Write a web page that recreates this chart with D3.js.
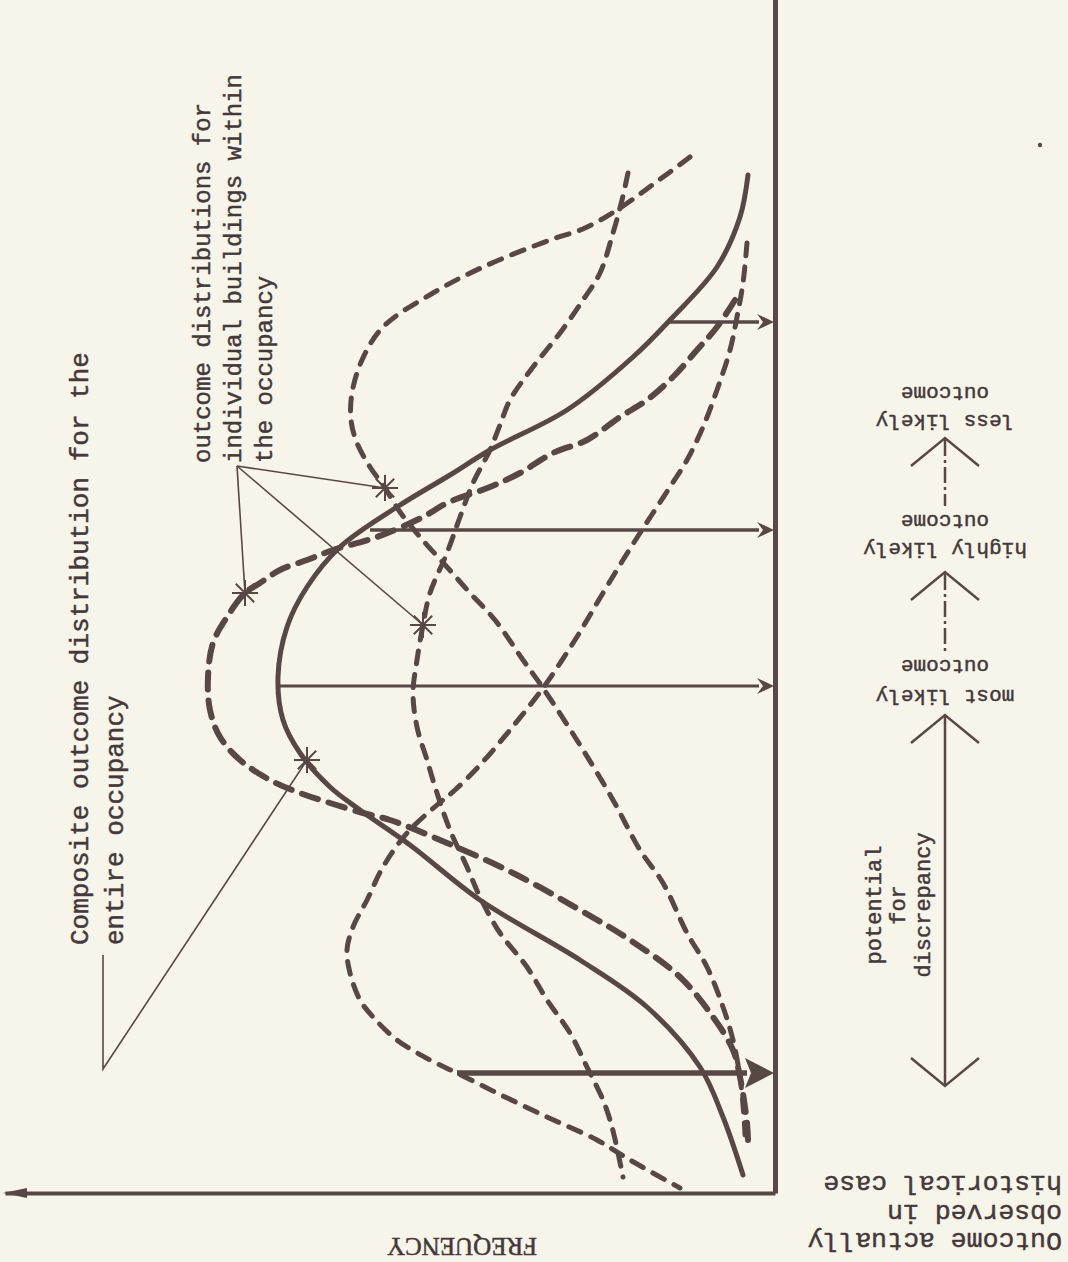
<!DOCTYPE html>
<html><head><meta charset="utf-8">
<script src="https://cdn.jsdelivr.net/npm/d3@7"></script>
<style>
html,body{margin:0;padding:0;background:#f7f4e9;}
svg{display:block;}
</style></head><body>
<svg id="chart" width="1068" height="1262"></svg>
<script>
// ---- Data (frequency units, outcome units) ----
// Composite outcome distribution for the entire occupancy (solid)
const compositeOutcome = [101.8,97.6,92.6,87.3,83.6,78.3,74.3,71.8,68.6,64.6,60.6,56.6,51.6,47.3,44.0,40.6,38.3,34.8,29.3,23.3,18.6,12.6,7.6,1.8];
const compositeFreq    = [2.7,3.5,5.8,10.5,14.2,20.8,28.5,32.5,37.8,43.5,46.8,48.8,49.7,49.2,47.5,44.5,41.5,36.5,29.5,19.5,12.8,7.5,5.2,3.2];

// Individual building A (bold dashed, widest peak)
const buildingAOutcome = [89.3,86.6,84.3,81.6,79.3,77.6,75.3,74.0,72.0,70.6,69.0,67.6,65.6,64.3,63.3,62.3,61.0,60.0,57.6,55.0,51.6,48.3,45.6,43.3,41.3,40.0,39.0,38.0,37.3,35.0,32.0,28.3,25.3,21.6,17.6,14.3,11.6,7.0,5.3];
const buildingAFreq    = [4.0,5.8,7.8,10.2,12.8,15.5,18.8,22.2,25.5,28.5,32.8,35.2,39.8,44.2,46.8,49.5,51.5,53.0,54.8,56.2,56.7,56.5,55.5,53.5,50.5,47.5,44.5,41.2,38.5,32.8,26.2,19.5,14.5,9.5,6.2,4.2,3.5,2.8,2.7];

// Individual building B (dashed, high-outcome peak)
const buildingBOutcome = [103.6,101.0,98.5,96.5,95.3,92.6,90.0,86.6,83.3,80.0,77.3,75.0,72.6,70.5,68.1,65.6,62.6,60.0,57.3,53.3,50.5,44.8,39.3,34.3,31.0,26.0,22.6,18.6,15.3,11.6,7.6,5.8];
const buildingBFreq    = [8.5,12.0,15.5,19.0,22.5,29.2,34.2,39.2,41.3,42.3,42.4,41.8,40.5,39.0,37.5,35.5,32.8,30.5,28.0,25.2,23.2,19.5,16.2,13.5,11.2,8.8,6.8,5.2,4.2,3.5,3.1,3.0];

// Individual building C (dashed, central narrow peak)
const buildingCOutcome = [102.0,99.3,96.0,92.0,89.3,86.0,82.6,79.3,76.8,74.3,71.0,67.6,64.0,60.0,56.8,53.3,50.0,46.6,43.3,40.0,36.3,32.6,29.6,26.0,22.6,19.3,16.0,12.6,9.3,6.6,1.6];
const buildingCFreq    = [14.7,15.3,16.2,17.5,19.2,21.5,24.2,26.5,27.5,28.5,30.2,31.5,32.8,34.5,35.2,35.8,36.2,35.8,34.8,33.8,32.5,30.8,29.5,27.5,24.8,22.8,20.5,18.8,17.2,16.3,15.2];

// Individual building D (dashed, low-outcome peak)
const buildingDOutcome = [95.0,91.0,87.6,84.3,80.3,76.6,73.3,70.6,68.0,66.0,63.3,60.0,55.3,50.5,46.3,42.8,40.3,38.8,36.0,32.6,29.3,26.6,24.3,22.0,19.3,17.6,15.3,13.3,12.0,10.0,7.6,5.3,3.3,0.5];
const buildingDFreq    = [2.8,3.2,3.8,4.5,5.8,7.2,8.8,10.5,12.2,13.5,15.2,17.2,20.0,23.2,26.5,29.5,32.0,33.8,36.8,39.2,40.8,42.2,42.8,42.5,41.5,40.2,37.8,34.5,31.8,27.8,22.8,17.8,14.5,9.5];

// Outcome markers (arrows to the outcome axis)
const markerOutcome  = [87.1, 66.3, 50.7, 12.0];
const markerFreq     = [10.5, 40.5, 49.5, 31.8];
const markerWidth    = [3.5, 3.5, 3, 5.5];

// Asterisks marking the labelled curves
const starFreq    = [46.8, 53.0, 35.2, 39.0];
const starOutcome = [43.3, 60.0, 56.8, 70.5];

// ---- Scales ----
const W = 1068, H = 1262;
const x = d3.scaleLinear().domain([0, 77]).range([775, 5]);      // frequency grows to the left
const y = d3.scaleLinear().domain([0, 120]).range([1193, -7]);   // outcome grows upward

const ink = "#574846", txt = "#43383a";
const svg = d3.select("#chart");
svg.append("rect").attr("width", W).attr("height", H).attr("fill", "#f7f4e9");

const line = d3.line().x(d => x(d[0])).y(d => y(d[1])).curve(d3.curveCatmullRom.alpha(0.5));
const pts = (f, o) => f.map((v, i) => [v, o[i]]);

// ---- Axes ----
const gAxY = svg.append("g").attr("transform", `translate(${x(0)},0)`)
  .call(d3.axisRight(y).tickValues([]).tickSizeOuter(0));
gAxY.select(".domain").attr("stroke", ink).attr("stroke-width", 5);
const gAxX = svg.append("g").attr("transform", `translate(0,${y(0)})`)
  .call(d3.axisBottom(x).tickValues([]).tickSizeOuter(0));
gAxX.select(".domain").attr("stroke", ink).attr("stroke-width", 4);
svg.append("path")
  .attr("d", `M${x(77)-2},${y(0)} L${x(77)+22},${y(0)-5} L${x(77)+22},${y(0)+5} Z`)
  .attr("fill", ink);

// ---- Curves ----
const curves = [
  {f: buildingDFreq, o: buildingDOutcome, w: 5, dash: "13 11"},
  {f: buildingCFreq, o: buildingCOutcome, w: 5, dash: "13 11"},
  {f: buildingBFreq, o: buildingBOutcome, w: 5, dash: "13 11"},
  {f: buildingAFreq, o: buildingAOutcome, w: 6, dash: "17 11"},
];
curves.forEach(c => {
  svg.append("path").datum(pts(c.f, c.o)).attr("d", line)
    .attr("fill", "none").attr("stroke", ink).attr("stroke-width", c.w)
    .attr("stroke-dasharray", c.dash).attr("stroke-linecap", "round");
});
svg.append("path").datum(pts(compositeFreq, compositeOutcome)).attr("d", line)
  .attr("fill", "none").attr("stroke", ink).attr("stroke-width", 5).attr("stroke-linecap", "round");

// ---- Marker arrows ----
markerOutcome.forEach((o, i) => {
  const yy = y(o), big = i === 3;
  const hl = big ? 30 : 18, hw = big ? 15 : 8;
  svg.append("line").attr("x1", x(markerFreq[i])).attr("x2", x(0) - hl + 2)
    .attr("y1", yy).attr("y2", yy).attr("stroke", ink).attr("stroke-width", markerWidth[i]);
  svg.append("path")
    .attr("d", `M${x(0)-1},${yy} L${x(0)-hl},${yy-hw} L${x(0)-hl+6},${yy} L${x(0)-hl},${yy+hw} Z`)
    .attr("fill", ink);
});

// ---- Asterisks ----
starFreq.forEach((f, i) => {
  const cx = x(f), cy = y(starOutcome[i]);
  [0, 45, 90, 135].forEach(a => {
    const r = 13, t = a * Math.PI / 180;
    svg.append("line").attr("x1", cx - r * Math.cos(t)).attr("y1", cy - r * Math.sin(t))
      .attr("x2", cx + r * Math.cos(t)).attr("y2", cy + r * Math.sin(t))
      .attr("stroke", ink).attr("stroke-width", 2);
  });
});

// ---- Leader lines ----
const leader = (pointsArr) => svg.append("path")
  .attr("d", d3.line()(pointsArr)).attr("fill", "none").attr("stroke", ink).attr("stroke-width", 1.6);
leader([[103, 955], [103, 1069], [x(starFreq[0]), y(starOutcome[0])]]);
[1, 2, 3].forEach(i => leader([[237, 466], [x(starFreq[i]), y(starOutcome[i])]]));

// ---- Text ----
const mono = "'Liberation Mono', 'DejaVu Sans Mono', monospace";
function styleText(t, size) {
  return t.attr("font-family", mono).attr("font-size", size).attr("fill", txt)
    .attr("stroke", txt).attr("stroke-width", 0.45);
}
function vtext(lines, xs, y0, size) {
  lines.forEach((s, i) => {
    styleText(svg.append("text").attr("transform", `translate(${xs[i]},${y0}) rotate(-90)`), size).text(s);
  });
}
vtext(["Composite outcome distribution for the", "entire occupancy"], [88, 123], 945, 26);
vtext(["outcome distributions for", "individual buildings within", "the occupancy"], [210, 241, 272], 463, 24);

// potential for discrepancy (rotated, centred)
["potential", "for", "discrepancy"].forEach((s, i) => {
  styleText(svg.append("text").attr("transform", `translate(${[881, 905, 930][i]},905) rotate(-90)`), 22)
    .attr("text-anchor", "middle").text(s);
});

// upside-down outcome labels
function utext(s, xx, yy, anchor, size) {
  styleText(svg.append("text").attr("transform", `translate(${xx},${yy}) rotate(180)`), size)
    .attr("text-anchor", anchor).attr("dominant-baseline", "central").text(s);
}
utext("less likely", 945, 420, "middle", 21);  utext("outcome", 945, 392, "middle", 21);
utext("highly likely", 945, 548, "middle", 21); utext("outcome", 945, 520, "middle", 21);
utext("most likely", 945, 695, "middle", 21);  utext("outcome", 945, 665, "middle", 21);
utext("Outcome actually", 1062, 1240, "start", 26.5);
utext("observed in", 1062, 1212, "start", 26.5);
utext("historical case", 1062, 1183, "start", 26.5);

// FREQUENCY (upside down)
svg.append("text").attr("transform", `translate(462,1246) rotate(180)`)
  .attr("font-family", "'Liberation Serif', 'DejaVu Serif', serif").attr("font-size", 25)
  .attr("fill", txt).attr("stroke", txt).attr("stroke-width", 0.5)
  .attr("text-anchor", "middle").attr("dominant-baseline", "central").text("FREQUENCY");

// ---- Right-hand outcome scale arrows ----
const ax = 945;
const chev = (tip, dir) => svg.append("path")
  .attr("d", `M${ax-34},${tip+dir*28} L${ax},${tip} L${ax+34},${tip+dir*28}`)
  .attr("fill", "none").attr("stroke", ink).attr("stroke-width", 2.5);
chev(438, 1); chev(572, 1); chev(715, 1); chev(1086, -1);
svg.append("line").attr("x1", ax).attr("x2", ax).attr("y1", 440).attr("y2", 506)
  .attr("stroke", ink).attr("stroke-width", 2.5).attr("stroke-dasharray", "16 4 3 4");
svg.append("line").attr("x1", ax).attr("x2", ax).attr("y1", 574).attr("y2", 652)
  .attr("stroke", ink).attr("stroke-width", 2.5).attr("stroke-dasharray", "16 4 3 4");
svg.append("line").attr("x1", ax).attr("x2", ax).attr("y1", 716).attr("y2", 1085)
  .attr("stroke", ink).attr("stroke-width", 2.5);

// stray typewriter dot
svg.append("circle").attr("cx", 1040).attr("cy", 145).attr("r", 2.2).attr("fill", ink);
</script>
</body></html>
